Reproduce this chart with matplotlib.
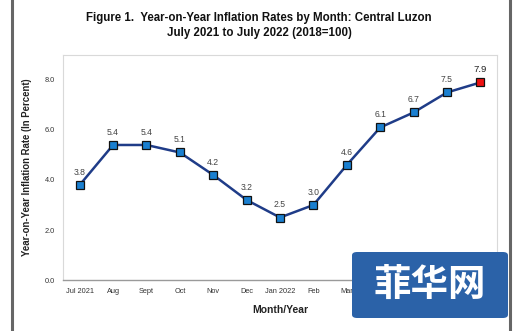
import matplotlib
matplotlib.use("Agg")
import matplotlib.pyplot as plt
from matplotlib.patches import FancyBboxPatch
from matplotlib.lines import Line2D

months = ["Jul 2021", "Aug", "Sept", "Oct", "Nov", "Dec", "Jan 2022",
          "Feb", "Mar", "Apr", "May", "Jun", "Jul"]
rates = [3.8, 5.4, 5.4, 5.1, 4.2, 3.2, 2.5, 3.0, 4.6, 6.1, 6.7, 7.5, 7.9]
yticks = [0.0, 2.0, 4.0, 6.0, 8.0]

plt.rcParams["font.family"] = ["Liberation Sans", "DejaVu Sans"]

fig = plt.figure(figsize=(5.18, 3.31), dpi=100)
ax = fig.add_axes([0.1216, 0.154, 0.838, 0.680])

x = list(range(len(months)))
ax.plot(x, rates, color="#1f3c88", lw=1.8, zorder=2)
ax.plot(x[:-1], rates[:-1], ls="none", marker="s", ms=6.2,
        mfc="#1a7fd0", mec="#111111", mew=0.9, zorder=3)
ax.plot(x[-1:], rates[-1:], ls="none", marker="s", ms=6.2,
        mfc="#ee1111", mec="#111111", mew=0.9, zorder=3)

for i, v in enumerate(rates):
    last = i == len(rates) - 1
    ax.annotate(f"{v:.1f}", (i, v), xytext=(0, 6), textcoords="offset points",
                ha="center", va="bottom", fontsize=6.8 if last else 6.2,
                color="#222222" if last else "#444444")

ax.set_xlim(-0.5, len(months) - 0.5)
ax.set_ylim(0, 9)
ax.set_xticks(x)
ax.set_xticklabels(months)
ax.set_yticks(yticks)
ax.set_yticklabels([f"{t:.1f}" for t in yticks])
ax.tick_params(axis="both", length=0, labelsize=5.3, colors="#333333", pad=6)

for side in ("top", "right", "left"):
    ax.spines[side].set_color("#d9d9d9")
    ax.spines[side].set_linewidth(0.8)
ax.spines["bottom"].set_color("#9a9a9a")
ax.spines["bottom"].set_linewidth(1.0)

ax.set_xlabel("Month/Year", fontsize=7.5, fontweight="bold", color="#222222", labelpad=7)
ax.set_ylabel("Year-on-Year Inflation Rate (In Percent)", fontsize=6.9,
              fontweight="bold", color="#222222", labelpad=9)

fig.text(0.5, 0.946, "Figure 1.  Year-on-Year Inflation Rates by Month: Central Luzon",
         ha="center", va="center", fontsize=8.3, fontweight="bold", color="#111111")
fig.text(0.5, 0.901, "July 2021 to July 2022 (2018=100)",
         ha="center", va="center", fontsize=8.3, fontweight="bold", color="#111111")

# page edges
for xe in (12 / 518, 510 / 518):
    fig.add_artist(Line2D([xe, xe], [0, 1], transform=fig.transFigure,
                          color="#666666", lw=2.2))

# site watermark
fig.add_artist(FancyBboxPatch((352 / 518, 13 / 331), 156 / 518, 66 / 331,
                              boxstyle="round,pad=0,rounding_size=0.01",
                              transform=fig.transFigure, fc="#2b62a8", ec="none",
                              zorder=10))
fig.text(430 / 518, 47 / 331, "菲华网", ha="center", va="center", fontsize=27,
         fontweight="bold", color="white", family=["Noto Sans CJK SC", "DejaVu Sans"],
         zorder=11)

fig.savefig("out.png", dpi=100)
